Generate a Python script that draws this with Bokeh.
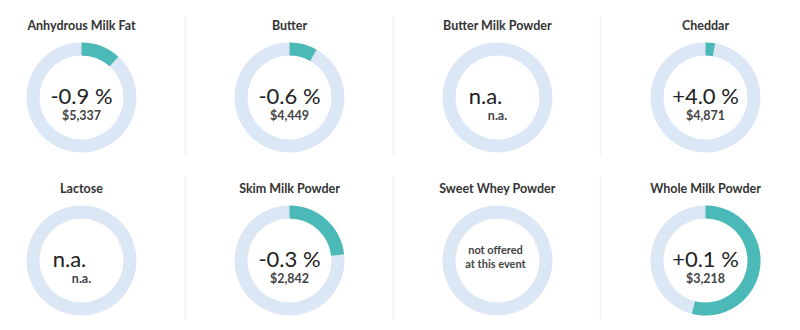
import math
from bokeh.plotting import figure
from bokeh.models import Range1d, ColumnDataSource
from bokeh.core.properties import value
from bokeh.embed import file_html
from bokeh.resources import INLINE

# ---- data ----
products = ["Anhydrous Milk Fat", "Butter", "Butter Milk Powder", "Cheddar",
            "Lactose", "Skim Milk Powder", "Sweet Whey Powder", "Whole Milk Powder"]
change_labels = ["-0.9 %", "-0.6 %", "n.a.", "+4.0 %", "n.a.", "-0.3 %", "", "+0.1 %"]
price_labels = ["$5,337", "$4,449", "n.a.", "$4,871", "n.a.", "$2,842", "", "$3,218"]
gauge_share = [0.117, 0.082, 0.0, 0.028, 0.0, 0.232, 0.0, 0.54]
offered = [True, True, True, True, True, True, False, True]

# ---- layout ----
W, H = 800, 330
col_x0, col_dx = 81, 208
row_y = [97, 260]
R_OUT, R_IN = 55, 42
TEAL = "#4bb9b7"
RING = "#dce7f5"

cx, cy = [], []
for i in range(len(products)):
    cx.append(col_x0 + col_dx * (i % 4))
    cy.append(H - row_y[i // 4])

p = figure(width=W, height=H, output_backend="svg", toolbar_location=None,
           x_range=Range1d(0, W), y_range=Range1d(0, H),
           min_border=0, outline_line_color=None, background_fill_color="white",
           border_fill_color="white")
p.axis.visible = False
p.grid.visible = False

# separators
sep_x = [185, 393, 600]
sx0, sy0, sx1, sy1 = [], [], [], []
for x in sep_x:
    for (a, b) in [(15, 155), (177, 318)]:
        sx0.append(x); sx1.append(x); sy0.append(H - a); sy1.append(H - b)
p.segment(x0=sx0, y0=sy0, x1=sx1, y1=sy1, line_color="#f1f1f1", line_width=1.5)

# background rings
p.annulus(x=cx, y=cy, inner_radius=R_IN, outer_radius=R_OUT,
          fill_color=RING, line_color=None)

# value arcs
ax, ay, a0, a1 = [], [], [], []
for i, f in enumerate(gauge_share):
    if f > 0:
        ax.append(cx[i]); ay.append(cy[i])
        a0.append(math.pi / 2)
        a1.append(math.pi / 2 - 2 * math.pi * f)
p.annular_wedge(x=ax, y=ay, inner_radius=R_IN, outer_radius=R_OUT,
                start_angle=a0, end_angle=a1, direction="clock",
                fill_color=TEAL, line_color=None)

FONT = value("Lato")

# titles
p.text(x=cx, y=[c + 72 for c in cy], text=products, text_font=FONT,
       text_font_size="12.5px", text_font_style="bold", text_color="#333333",
       text_align="center", text_baseline="middle")

# main values
mx, my, mt = [], [], []
px_, py_, pt = [], [], []
for i in range(len(products)):
    if not offered[i]:
        continue
    off = -12 if change_labels[i] == "n.a." else 0
    mx.append(cx[i] + off); my.append(cy[i] + 2); mt.append(change_labels[i])
    px_.append(cx[i]); py_.append(cy[i] - 18); pt.append(price_labels[i])
p.text(x=mx, y=my, text=mt, text_font=FONT, text_font_size="22px",
       text_color="#222222", text_align="center", text_baseline="middle")
p.text(x=px_, y=py_, text=pt, text_font=FONT, text_font_size="12.5px",
       text_font_style="bold", text_color="#444444",
       text_align="center", text_baseline="middle")

# not offered note
no_x, no_y, no_t = [], [], []
for i in range(len(products)):
    if not offered[i]:
        no_x += [cx[i] - 2, cx[i] - 2]
        no_y += [cy[i] + 11, cy[i] - 3]
        no_t += ["not offered", "at this event"]
p.text(x=no_x, y=no_y, text=no_t, text_font=FONT, text_font_size="11px",
       text_font_style="bold", text_color="#444444",
       text_align="center", text_baseline="middle")

open("out.html", "w").write(file_html(p, INLINE))
